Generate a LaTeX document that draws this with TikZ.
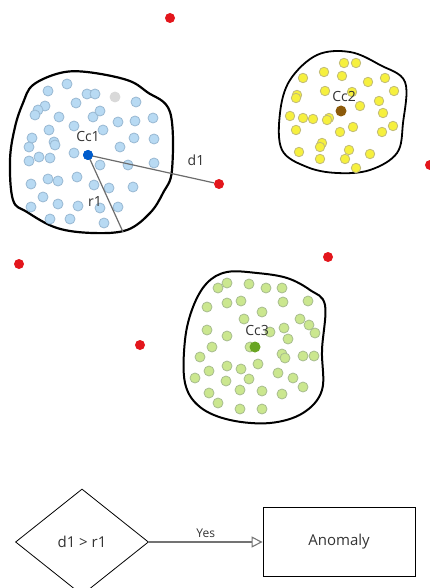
\documentclass[tikz,border=0pt]{standalone}
\usepackage{fontspec}
\setmainfont{Open Sans}
\usetikzlibrary{shapes.geometric,arrows.meta}
\definecolor{redpt}{HTML}{E3161C}
\definecolor{bluefill}{HTML}{B8DAF3}
\definecolor{blueline}{HTML}{98B8D2}
\definecolor{yelfill}{HTML}{F6F03E}
\definecolor{yelline}{HTML}{C2BC78}
\definecolor{grnfill}{HTML}{CBE78F}
\definecolor{grnline}{HTML}{A7BC8E}
\definecolor{txt}{HTML}{333333}
\tikzset{
  pt/.style={circle,inner sep=0pt,minimum size=10pt,line width=0.8pt},
  bdot/.style={pt,fill=bluefill,draw=blueline},
  ydot/.style={pt,fill=yelfill,draw=yelline,minimum size=9.5pt},
  gdot/.style={pt,fill=grnfill,draw=grnline},
  rdot/.style={circle,inner sep=0pt,minimum size=10pt,fill=redpt},
  blob/.style={draw=black,line width=2.2pt,fill=white},
  lbl/.style={text=txt,font=\fontsize{14}{16}\selectfont,inner sep=0pt},
  ray/.style={draw=gray!85!black,line width=1.2pt},
  flow/.style={draw=black,line width=0.8pt,text=txt,font=\fontsize{15}{18}\selectfont}
}
\begin{document}
\begin{tikzpicture}[x=1pt,y=-1pt]
\useasboundingbox (0,0) rectangle (429,588);
% cluster outlines
\draw[blob] plot[smooth cycle,tension=0.6] coordinates {(33,85)(60,73)(87,72)(127,80)(147,92)(170,112)(172,170)(163,193)(150,213)(127,230)(93,233)(57,228)(27,212)(13,200)(10,160)(15,127)(23,103)};
\draw[blob,line width=1.8pt] plot[smooth cycle,tension=0.6] coordinates {(317,55)(350,52)(380,65)(405,82)(403,123)(397,153)(370,170)(337,173)(307,167)(282,150)(280,113)(290,80)};
\draw[blob,line width=2pt] plot[smooth cycle,tension=0.6] coordinates {(207,283)(227,272)(257,273)(287,278)(310,290)(325,305)(322,350)(322,390)(303,413)(270,423)(230,420)(200,407)(185,383)(185,340)(193,307)};
% cluster 1 points
\foreach \p [count=\i] in {(48,91),(67,84),(87,94),(95,94),(136,102),(45,106),(38,110),(35,115),(59,117),(76,103),(93,117),(100,111),(118,122),(135,121),(153,118),(74,126),(49,130),(32,138),(54,142),(55,145),(103,130),(134,138),(154,139),(29,147),(120,147),(74,153),(39,157),(50,158),(29,161),(100,165),(128,165),(154,163),(48,179),(58,181),(31,184),(77,177),(94,185),(109,188),(133,187),(43,197),(58,204),(31,207),(78,206),(100,208),(118,207),(50,219),(70,219),(104,223)}
  \node[bdot] (b\i) at \p {};
\node[pt,fill=gray!30,draw=gray!30] (bg) at (115,97) {};
% cluster 2 points
\foreach \p [count=\i] in {(344,63),(356,63),(303,78),(324,72),(342,76),(368,82),(385,78),(297,95),(296,98),(325,91),(352,92),(394,91),(360,106),(379,101),(290,116),(303,118),(313,119),(329,118),(327,120),(383,113),(296,130),(340,132),(353,127),(382,132),(393,126),(322,143),(320,147),(299,152),(349,150),(370,154),(320,159),(345,159),(356,168)}
  \node[ydot] (y\i) at \p {};
% cluster 3 points
\foreach \p [count=\i] in {(218,288),(227,283),(249,284),(266,288),(282,288),(207,307),(227,303),(241,301),(283,302),(308,301),(244,319),(262,312),(300,319),(309,325),(315,333),(207,330),(227,336),(270,332),(284,328),(288,339),(212,347),(250,347),(200,357),(282,354),(285,358),(303,356),(314,356),(209,371),(227,366),(241,369),(258,364),(278,373),(195,378),(226,381),(249,379),(293,378),(209,393),(240,390),(262,391),(282,394),(303,387),(218,403),(240,409),(262,409)}
  \node[gdot] (g\i) at \p {};
% outliers
\node[rdot] (o1) at (170,18) {};
\node[rdot] (o2) at (219,184) {};
\node[rdot] (o3) at (19,264) {};
\node[rdot] (o4) at (328,257) {};
\node[rdot] (o5) at (140,345) {};
\node[rdot] (o6) at (430,165) {};
% centroids
\coordinate (r1end) at (123,232);
\node[circle,inner sep=0pt,minimum size=10pt,fill=blue!55!cyan!80!black] (cc1) at (88,155) {};
\draw[ray] (cc1.center) -- (o2);
\draw[ray] (cc1.center) -- (r1end);
\node[circle,inner sep=0pt,minimum size=10pt,fill=blue!55!cyan!80!black] at (88,155) {};
\node[circle,inner sep=0pt,minimum size=11pt,fill={rgb,255:red,140;green,90;blue,10}] (cc2) at (341,111) {};
\node[circle,inner sep=0pt,minimum size=11pt,fill={rgb,255:red,105;green,165;blue,35}] (cc3) at (255,347) {};
\node[lbl] (lc1) at (88,136) {Cc1};
\node[lbl] (lc2) at (344,97) {Cc2};
\node[lbl] (lc3) at (257,330) {Cc3};
\node[lbl] (ld1) at (196,160) {d1};
\node[lbl] (lr1) at (95,202) {r1};
% flow
\node[flow,diamond,minimum width=133pt,minimum height=106pt,inner sep=0pt] (dia) at (82,542) {d1 > r1};
\node[flow,rectangle,minimum width=152pt,minimum height=69pt] (anom) at (339,542) {Anomaly};
\draw[draw=gray!90!black,line width=1.1pt,-{Triangle[open,length=11pt,width=11pt]}] (dia.east) -- (anom.west) node[midway,above=4pt,text=txt,font=\fontsize{12}{14}\selectfont,inner sep=0pt] (yes) {Yes};
\end{tikzpicture}
\end{document}
